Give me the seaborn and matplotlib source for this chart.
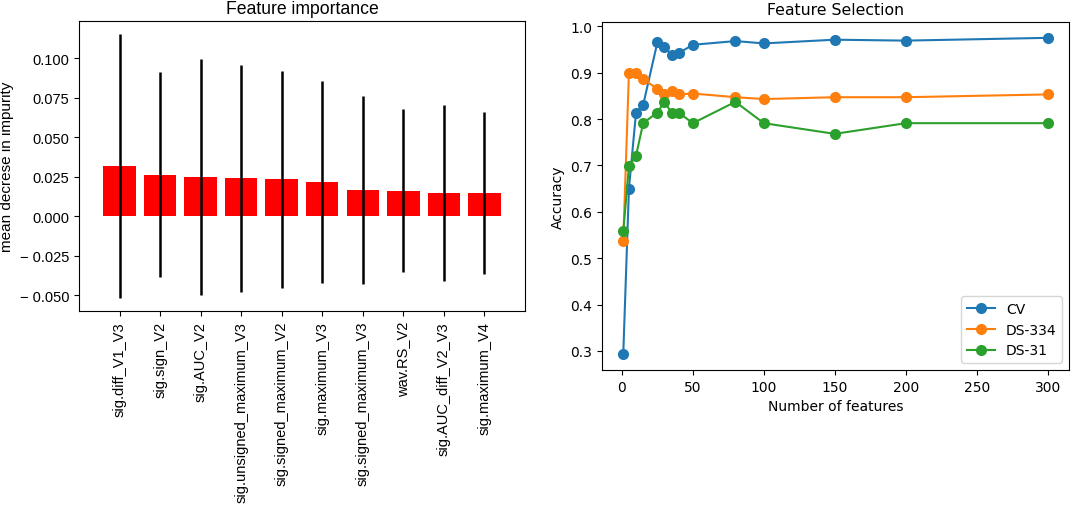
import numpy as np
import pandas as pd
import matplotlib
matplotlib.use("Agg")
import matplotlib.pyplot as plt
import seaborn as sns

# ---- data: feature importance ----
features = ["sig.diff_V1_V3", "sig.sign_V2", "sig.AUC_V2", "sig.unsigned_maximum_V3",
            "sig.signed_maximum_V2", "sig.maximum_V3", "sig.signed_maximum_V3",
            "wav.RS_V2", "sig.AUC_diff_V2_V3", "sig.maximum_V4"]
importance = [0.0317, 0.0264, 0.0249, 0.0241, 0.0233, 0.0220, 0.0167, 0.0163, 0.0148, 0.0148]
importance_std = [0.0835, 0.0650, 0.0750, 0.0720, 0.0690, 0.0640, 0.0595, 0.0518, 0.0557, 0.0515]
yticks_left = [-0.05, -0.025, 0.0, 0.025, 0.05, 0.075, 0.1]

# ---- data: feature selection ----
n_features = [1, 5, 10, 15, 25, 30, 35, 40, 50, 80, 100, 150, 200, 300]
acc_cv = [0.293, 0.650, 0.814, 0.830, 0.965, 0.955, 0.939, 0.942, 0.960, 0.968, 0.963, 0.971, 0.969, 0.975]
acc_ds334 = [0.537, 0.900, 0.900, 0.886, 0.865, 0.854, 0.860, 0.853, 0.855, 0.847, 0.843, 0.847, 0.847, 0.853]
acc_ds31 = [0.558, 0.698, 0.721, 0.791, 0.814, 0.837, 0.814, 0.814, 0.791, 0.837, 0.791, 0.768, 0.791, 0.791]
series_names = ["CV", "DS-334", "DS-31"]

fig = plt.figure(figsize=(10.72, 5.06), dpi=100)
ax1 = fig.add_axes([0.0737, 0.383, 0.416, 0.573])
ax2 = fig.add_axes([0.5616, 0.2668, 0.4356, 0.6877])

# ---- left: feature importance ----
arial = ["Liberation Sans", "DejaVu Sans"]
df_imp = pd.DataFrame({"feature": features, "importance": importance})
sns.barplot(data=df_imp, x="feature", y="importance", color="#ff0000",
            saturation=1, width=0.8, ax=ax1, errorbar=None)
ax1.errorbar(np.arange(len(features)), importance, yerr=importance_std,
             fmt="none", ecolor="black", elinewidth=1.8, capsize=0)
ax1.set_xlim(-1, len(features))
ax1.set_xlabel("")
ax1.set_ylabel("mean decrese in impurity", fontsize=11, family=arial)
ax1.set_title("Feature importance", fontsize=12.7, family=arial)
ax1.set_yticks(yticks_left)
ax1.set_yticklabels([f"{v:.3f}".replace("-", "\u2212 ") for v in yticks_left],
                    fontsize=10.5, family=arial)
ax1.set_xticks(np.arange(len(features)))
ax1.set_xticklabels(features, rotation=90, fontsize=10.5, family=arial)

# ---- right: feature selection ----
colors = ["#1f77b4", "#ff7f0e", "#2ca02c"]
for name, acc, c in zip(series_names, [acc_cv, acc_ds334, acc_ds31], colors):
    sns.lineplot(x=n_features, y=acc, color=c, marker="o", markersize=8,
                 markeredgecolor=c, markeredgewidth=0, label=name, ax=ax2)
ax2.set_title("Feature Selection", fontsize=11.3)
ax2.set_xlabel("Number of features", fontsize=10)
ax2.set_ylabel("Accuracy", fontsize=10)
ax2.tick_params(labelsize=10)
ax2.legend(loc="lower right", fontsize=10)

fig.savefig("out.png", dpi=100)
